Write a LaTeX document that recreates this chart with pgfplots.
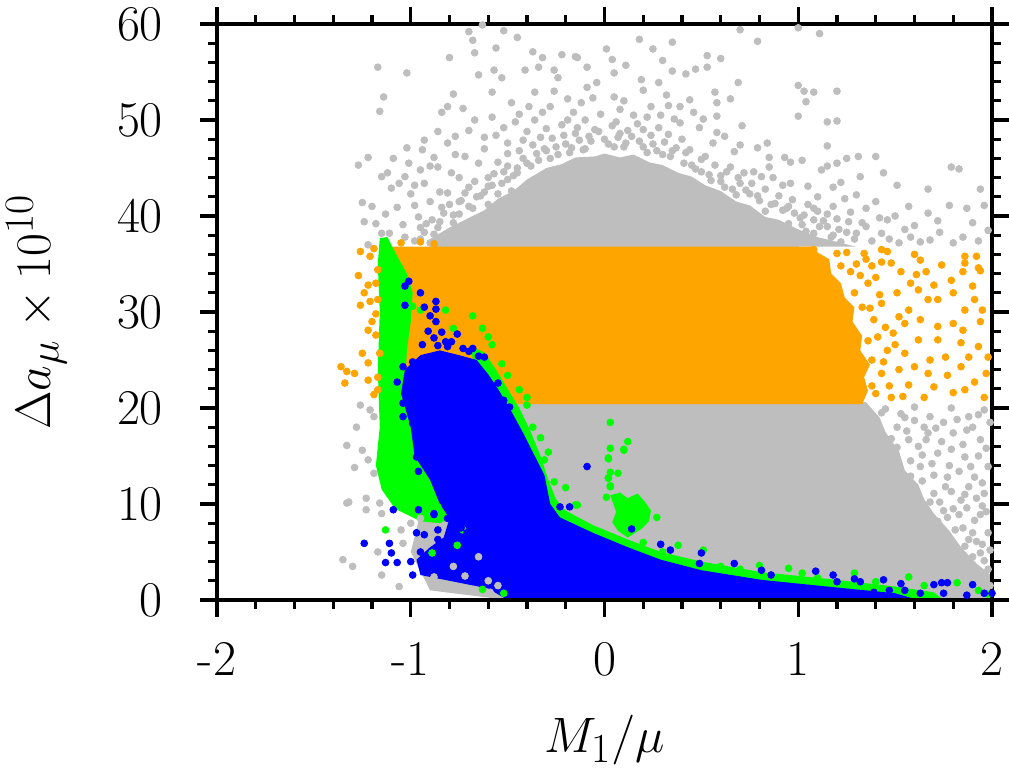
\documentclass[border=0pt]{standalone}
\usepackage{pgfplots}
\pgfplotsset{compat=1.18}
\definecolor{cgr}{RGB}{190,190,190}
\definecolor{cor}{RGB}{255,165,0}
\definecolor{cgn}{RGB}{0,255,0}
\definecolor{cbl}{RGB}{0,0,255}
\begin{document}
\begin{tikzpicture}
\useasboundingbox (-108.5pt,-84.5pt) rectangle (396pt,300pt);
\begin{axis}[
 at={(0,0)}, anchor=south west,
 scale only axis, width=387.5pt, height=288pt,
 xmin=-2, xmax=2, ymin=0, ymax=60,
 xtick={-2,-1,0,1,2}, xticklabels={-2,-1,0,1,2},
 ytick={0,10,20,30,40,50,60}, yticklabels={0,10,20,30,40,50,60},
 minor x tick num=4, minor y tick num=4,
 tick align=outside,
 major tick length=8.5pt, minor tick length=4.5pt,
 axis line style={line width=1.6pt},
 every tick/.style={line width=1.6pt, black},
 tick label style={font=\fontsize{25}{30}\selectfont},
 xticklabel style={yshift=-9pt},
 yticklabel style={xshift=-15pt},
 label style={font=\fontsize{27.5}{33}\selectfont},
 xlabel={$M_1/\mu$}, ylabel={$\Delta a_\mu \times 10^{10}$},
 xlabel style={at={(axis description cs:0.5,-0.2656)}, anchor=base},
 ylabel style={at={(axis description cs:-0.2142,0.5)}, anchor=base},
 axis on top,
 mark size=1.7pt,
]
% ---------------- grey: dense core ----------------
\addplot[draw=none, fill=cgr] coordinates {
(-0.9,36.8) (-0.9,37.6) (-0.8,38.8) (-0.7,39.8) (-0.62,40.6) (-0.55,41.8) (-0.47,42.6) (-0.4,43.8) (-0.3,45) (-0.22,45.4) (-0.15,46.1) (-0.05,46.2) (0,46.5) (0.08,46.1) (0.15,46.4) (0.23,45.6) (0.3,45.3) (0.38,44.5) (0.45,44.1) (0.52,43.2) (0.6,42.6) (0.68,41.5) (0.75,41.1) (0.83,39.9) (0.9,39.6) (1.0,38.6) (1.1,37.8) (1.2,37.3) (1.3,36.8) (1.0,36.8) (1.0,20.6) (1.35,20.6) (1.42,19) (1.45,17.5) (1.52,15.5) (1.55,13.5) (1.62,12) (1.65,10.5) (1.7,9) (1.78,7.2) (1.84,5.5) (1.92,3.8) (2.0,2.5) (2.0,0) (-0.5,0) (-0.9,1) (-1.0,5) (-0.95,9) (-0.9,20.5) (-0.9,36.8)};
% ---------------- grey: scattered points ----------------
\addplot[only marks, mark=*, cgr] coordinates {
(-0.63,59.9)(-0.70,59.2)(-0.52,59.3)(-0.45,58.6)(-0.68,58.3)(-0.56,57.5)(-0.67,57)(-0.80,56.5)(-1.17,55.5)(-1.02,54.9)
(-0.37,57.1)(-0.32,56.5)(-0.22,56.8)(-0.15,56.6)(-0.57,55.2)(-0.65,54.7)(-0.53,54.4)(-0.41,55.2)(-0.34,55.5)(-0.26,55.2)
(-0.04,53.9)(-0.24,54.4)(-1.14,52.4)(-1.16,50.9)(-0.78,52.7)(-0.58,52.9)(-0.36,52.9)(-0.26,53)(-0.81,51.4)(-0.73,51.2)
(-0.48,51.8)(-0.39,51.4)(-0.32,50.8)(-0.19,52.2)(-0.12,51.8)(-0.84,50.8)(-0.58,50.3)(-0.67,50)(-0.46,49.8)(-0.36,50)
(-0.19,50)(-0.10,50)(-0.86,48.8)(-0.70,48.9)(-0.56,48.4)(-0.42,47.9)(-0.33,48.2)(-0.13,47.9)(-0.93,47.9)(-1.02,47.1)
(-0.81,47.6)(-1.27,45.3)(-1.22,46.1)(-1.09,46)(-1.01,45.5)(-0.94,46.9)(-0.88,46.1)(-0.77,46.4)(-1.15,44.1)(-1.12,44.5)
(-1.03,44.1)(-0.95,44.8)(-0.86,45.1)(-0.79,44.5)(-1.25,41.4)(-1.20,41)(-1.07,40.9)(-1.10,42.9)(-0.93,43.4)(-1.24,39.4)
(-0.98,41.1)(-1.04,39.1)(-0.96,39.9)(-1.15,38.2)(-1.11,38.2)(-1.22,37)(-1.03,37.8)(-0.89,39.6)(-0.81,42.4)(-0.84,40.9)
(-0.65,45.5)(-0.6,44)(-0.5,46.5)(-0.45,45)(-0.2,47.5)(0.0,48)(0.1,47.2)(0.25,47.5)(0.35,46.8)(0.4,48)
(-0.05,49)(0.2,49)(0.15,50.5)(0.1,52)(-0.3,46.8)(-0.7,43)(-0.62,42.5)(-0.75,41.5)
(-0.98,37.4)(-0.93,38.3)(-0.9,37.2)(-0.86,38.8)(-0.8,38)(-0.78,39.3)(-0.75,40.2)(-0.72,38.6)
(-0.68,40.8)(-0.66,42)(-0.6,41.2)(-0.58,43.2)(-0.55,42.3)(-0.5,43.8)(-0.48,42.6)(-0.52,44.6)(-0.45,44.5)(-0.42,46)
(-0.38,45.2)(-0.35,46.5)(-0.28,46)(-0.25,47.2)(-0.18,46.6)(-0.1,47)(-0.08,48.3)(0.05,47.2)(0.08,48.6)(0.18,47.8)
(0.22,46.6)(0.3,46.4)(0.33,48.5)(0.42,46.6)(0.45,45.3)(0.5,44.6)(0.52,46.2)(0.55,43.7)(0.6,44.2)(0.62,43)
(0.68,42.2)(0.7,43.4)(0.75,42.3)(0.8,41.6)(0.83,40.5)(0.88,41.3)(0.92,40.6)(0.95,39.2)(0.98,40.3)(1.02,39.1)
(1.05,41.2)(1.1,40.5)(1.13,39.5)(1.2,39.7)(1.24,41.8)(1.35,40.8)(1.3,38.2)(1.18,38.0)(1.06,37.5)
(-0.3,49.1)(-0.22,49.5)(-0.15,48.6)(-0.02,50.6)(0.06,49.8)(0.12,48.9)(0.28,49.2)(0.36,50.1)(-0.4,48.8)(-0.5,47.6)
(-0.62,47)(-0.72,46.2)(-0.75,44)(-0.85,42.5)(-0.9,41.5)(-1.0,42.3)(-0.95,38.8)
(-0.95,37.6)(-0.92,39.2)(-0.88,38.1)(-0.85,39.4)(-0.83,40.3)(-0.8,41.2)(-0.78,40.1)(-0.74,41.6)(-0.72,42.4)(-0.7,41)
(-0.67,43.6)(-0.64,42.1)(-0.6,43.1)(-0.57,44.4)(-0.55,45.6)(-0.53,43.4)(-0.5,45.2)(-0.47,44.2)(-0.44,46.8)(-0.4,45.5)
(-0.37,47.4)(-0.34,45.8)(-0.31,47)(-0.27,48.1)(-0.24,46.4)(-0.21,48.4)(-0.17,47.1)(-0.14,49.2)(-0.11,46.9)(-0.07,47.8)
(-0.03,48.8)(0.02,47.5)(0.04,49.4)(0.07,48.2)(0.11,47.6)(0.14,48.3)(0.17,49.6)(0.2,47.2)(0.24,48.4)(0.27,46.8)
(0.31,47.7)(0.34,46.2)(0.37,47.1)(0.41,45.5)(0.44,46.9)(0.47,44.9)(0.5,45.9)(0.54,44.3)(0.57,45.3)(0.6,43.6)
(0.63,44.6)(0.66,42.8)(0.69,44)(0.73,42.7)(0.76,43.4)(0.79,42.1)(0.83,42.8)(0.86,41.2)(0.9,42.1)(0.94,40.8)
(0.97,41.7)(1.01,39.8)(1.04,38.4)(1.08,40.8)(1.11,38.9)(1.15,40.2)(1.17,37.8)(1.21,38.6)(1.26,39.4)(1.29,37.6)
(1.35,38.9)(1.42,39.8)(1.47,37.6)(1.55,38.6)(1.63,37.3)(1.73,38.3)(1.85,37.8)(1.93,37.4)
(-0.52,49.2)(-0.44,50.6)(-0.28,51.4)(-0.16,50.8)(-0.06,52.3)(0.08,51.1)(0.22,50.3)(0.32,52.6)(0.44,52.1)(-0.62,48.2)
(-0.77,48.3)(-0.9,45.2)(-0.98,43.2)(-1.06,43.4)(-1.13,40.2)(-1.18,39.2)
(0.70,59.4)(1.0,59.6)(1.11,59)(0.79,58.2)(0.18,58.4)(0.35,58.1)(0.01,57.4)(0.25,57.4)(-0.14,56.5)(0.04,56.3)
(0.53,56.7)(0.60,56.4)(0.30,56.2)(-0.09,55.5)(0.11,55.7)(0.35,55.1)(0.42,54.8)(0.47,55.3)(0.53,55.5)(0.05,54.9)
(0.19,54.2)(0.28,53.9)(0.69,53.9)(1.0,53.6)(1.03,53)(1.08,52.9)(1.20,53)(0.57,52.9)(-0.09,53.4)(0.05,52.4)
(0.20,53.1)(0.65,52.2)(0.58,51.8)(1.04,51.9)(0.33,51.5)(0.39,51.4)(0.24,51.4)(1.0,50.4)(0.46,50.8)(0.51,50.1)
(0.58,50.4)(0.29,50.5)(1.15,49.8)(1.20,49.9)(0.71,49.4)(0.39,49.7)(0.49,49.2)(0.58,48.7)(0.62,48.3)(0.84,47.6)
(0.70,47.4)(0.79,47.1)(1.15,47.3)(0.56,47.6)(0.67,46.7)(0.85,46.1)(0.93,46.1)(0.96,45.6)(1.02,45.8)(1.20,45.5)
(1.25,46)(1.31,46.2)(1.40,46.2)(1.15,45.2)(1.12,44.8)(1.44,44.5)(1.51,43.2)(1.67,42.8)(1.79,45.1)(1.83,44.9)
(1.94,42.8)(0.72,44.5)(0.77,44.6)(0.81,44.1)(0.87,44)(0.92,43.2)(0.96,43.4)(1.05,43.1)(1.18,43)(1.22,43.5)
(1.32,44.1)(0.65,45.1)(0.85,45.1)
(0.95,41)(1.03,40.1)(1.18,41)(1.27,40.4)(1.33,39.3)(1.43,38.2)(1.57,41)(1.67,40.3)(1.78,41.1)(1.87,40.8)
(1.96,41.1)(1.80,37.2)(1.68,37.5)(1.58,37.8)(1.98,38.5)(1.22,37.3)(1.08,38.2)(0.98,37.8)(1.46,39.6)(1.08,39.6)
(1.15,38.9)(1.1,42)(1.3,42.2)(1.4,41.5)(1.5,40)(1.6,39)(1.72,39.5)(1.9,39.3)(1.25,38.3)(1.38,37.4)(1.52,37.2)(1.12,37.2)
(1.43,19.5)(1.51,18)(1.60,20.1)(1.68,19.1)(1.79,20)(1.88,19.1)(1.96,19.8)(1.57,16.7)(1.67,17.4)(1.80,17.4)
(1.94,16.7)(1.72,15.3)(1.86,14.9)(1.63,13.9)(1.77,12.8)(1.91,12.8)(1.98,13.9)(1.70,11.1)(1.84,10.4)(1.96,11.1)
(1.77,8.6)(1.91,8.3)(1.67,9.1)(1.98,7)(1.88,6.3)(1.94,4.9)(1.51,15.9)
(1.55,19)(1.62,16)(1.75,18.5)(1.9,18)(1.85,16.2)(1.78,14)(1.93,15)(1.7,13)(1.88,11.8)(1.8,9.5)
(1.95,9.8)(1.73,10.2)(1.85,7.5)(1.95,5.8)(1.9,4.5)(1.98,3.2)(1.65,18)(1.58,14.5)
(1.45,19.9)(1.48,16.8)(1.53,19.4)(1.56,17.6)(1.6,18.7)(1.64,15.1)(1.66,16.7)(1.69,14.2)(1.71,17.9)(1.74,16.5)
(1.76,11.8)(1.79,15.7)(1.82,18.8)(1.83,13.4)(1.86,11)(1.87,17.7)(1.89,13.9)(1.92,10.6)(1.93,19.3)(1.95,12.2)
(1.97,15.8)(1.99,18.5)(1.58,12.9)(1.61,10.9)(1.64,12.4)(1.68,10.2)(1.72,8.2)(1.75,9.3)(1.79,11.3)(1.81,7.3)
(1.83,8.9)(1.86,5.6)(1.87,9.6)(1.9,7)(1.92,6.1)(1.94,8.9)(1.96,4.1)(1.99,5.2)(1.97,9.2)(1.89,3.4)
(1.95,2.8)(1.99,1.5)(1.55,11.2)(1.5,13.4)(1.47,14.8)(1.76,6.4)(1.81,4.6)(1.7,7.1)
(-1.26,20.3)(-1.28,18)(-1.33,16.1)(-1.25,15.6)(-1.29,13.8)(-1.22,14.6)(-1.19,13.2)(-1.32,10.2)(-1.23,10.6)(-1.16,10.1)
(-1.19,19.1)(-1.21,19.8)(-1.33,10.1)(-1.23,9.4)(-1.35,4.2)(-1.30,3.5)(-1.15,2.6)(-1.06,1.4)(-1.15,9)(-1.05,7.3)
(-1.04,5.9)(-1.17,5)(-1.0,8)(-0.88,2.4)(-0.81,1.2)(-0.69,1)(-0.59,0.8)
(-0.95,8.5)(-0.9,6)(-0.78,3.5)(-0.72,2.5)(-0.65,4.5)(-0.6,2)(-0.55,1.5)
};
% ---------------- orange ----------------
\addplot[draw=none, fill=cor] coordinates {
(-1.1,20.4) (1.0,20.4) (1.0,36.8) (-1.1,36.8) (-1.1,20.4)};
\addplot[draw=none, fill=cor] coordinates {
(0.99,20.4) (1.33,20.4) (1.36,21.8) (1.34,23.2) (1.37,24.5) (1.32,26) (1.33,27.5) (1.28,29) (1.29,30.5) (1.24,31.5) (1.22,33) (1.17,34) (1.16,35.5) (1.1,36.2) (1.07,36.8) (0.99,36.8)};
\addplot[only marks, mark=*, cor] coordinates {
(-1.26,36.3)(-1.21,35.8)(-1.27,33.8)(-1.22,32.8)(-1.24,32)(-1.21,31.1)(-1.26,30.7)(-1.17,31.3)(-1.20,29)(-1.22,28.1)
(-1.18,27.6)(-1.25,25.7)(-1.22,24.7)(-1.36,24.3)(-1.33,23.8)(-1.29,23.6)(-1.34,22.6)(-1.22,22.9)(-1.19,21.4)(-1.17,21.9)
(-1.17,23.2)(-1.16,25.7)(-1.17,34.4)(-1.19,36.6)(-1.18,33)(-1.18,29.8)(-1.05,37.2)(-0.95,37.3)(-0.88,37.1)
(1.08,36.5)(1.20,36.1)(1.34,36.1)(1.43,36.5)(1.46,36.3)(1.63,35.4)(1.86,35.8)(1.92,35.8)(1.93,34.6)(1.74,34.9)
(1.61,33.9)(1.53,34.2)(1.43,35.2)(1.48,35.1)(1.86,35.1)(1.85,34.2)(1.94,34.3)(1.79,33.3)(1.70,32.8)(1.90,32.7)
(1.80,32)(1.62,32.3)(1.51,32)(1.36,33)(1.29,32)(1.43,30.9)(1.67,31.3)(1.72,31.3)(1.86,30.2)(1.95,30.2)
(1.91,31.3)(1.57,30.2)(1.63,29.2)(1.72,28.5)(1.80,28.8)(1.85,28.1)(1.94,29)(1.93,26.4)(1.84,26.8)(1.72,27.1)
(1.62,27.1)(1.49,27.8)(1.55,25.7)(1.68,25)(1.76,25.3)(1.88,25.3)(1.98,25.3)(1.97,23.6)(1.84,24.3)(1.77,23.4)
(1.67,23.6)(1.60,24.3)(1.57,22.4)(1.70,22.2)(1.80,21.6)(1.86,21.9)(1.96,21.1)(1.91,22.7)(1.65,21.1)(1.48,21.1)
(1.43,23.6)(1.46,26)(1.39,29.2)(1.40,21.5)(1.38,25)(1.36,27)(1.33,30.5)(1.27,34.2)(1.38,34.8)(1.52,29.5)
(1.35,35.5)(1.4,33.6)(1.32,33.8)(1.42,31.8)(1.37,30.4)(1.45,28.4)(1.41,27.4)(1.5,26.6)(1.44,24.8)(1.52,24)
(1.47,22.3)(1.38,22.3)(1.54,21.2)(1.55,28.8)(1.58,33)(1.66,34.2)(1.6,36)(1.25,36.2)(1.3,35)(1.22,34.8)
};
% ---------------- green ----------------
\addplot[draw=none, fill=cgn] coordinates {
(-1.16,37.7)(-1.12,37.8)(-1.08,36.2)(-1.02,34)(-0.99,32)(-1.0,29)(-1.02,26)(-1.03,22)(-0.99,18)(-0.95,15)
(-0.85,13.3)(-0.76,11.5)(-0.75,9)(-0.85,8)(-0.95,8.2)(-1.08,9.5)(-1.15,11.5)(-1.18,14)(-1.16,18)(-1.17,24)(-1.16,30)(-1.17,35)(-1.16,37.7)};
\addplot[draw=none, fill=cgn] coordinates {
(-0.7,26.5)(-0.62,25.8)(-0.56,24)(-0.5,22)(-0.44,20)(-0.38,17.5)(-0.33,15)(-0.29,12.5)(-0.25,10.5)(-0.2,9.3)
(-0.06,7.8)(0.12,6.3)(0.29,5)(0.5,4)(0.81,2.9)(1.15,2.2)(1.5,1.4)(1.7,0.8)(1.75,0)(0,0)(-0.6,20)(-0.7,26.5)};
\addplot[draw=none, fill=cgn] coordinates {
(0.03,10.9)(0.08,11.2)(0.12,10.6)(0.17,11.1)(0.21,10.2)(0.24,9.3)(0.23,8.2)(0.19,7.4)(0.12,6.5)(0.07,7.2)(0.04,8.1)(0.06,9.2)(0.03,10.9)};
\addplot[only marks, mark=*, cgn] coordinates {
(-0.68,29.6)(-0.63,28.3)(-0.60,27.4)(-0.58,26.6)(-0.53,24.6)(-0.57,23.6)(-0.50,23.4)(-0.44,21.9)(-0.40,21.1)(-0.40,20.3)
(-0.37,18)(-0.33,16.9)(-0.29,15.4)(-0.31,14.6)(-0.26,12.3)(-0.20,11.7)(-0.14,9.9)(0.03,18.5)(0.12,16.5)(0.10,15.6)
(0.02,14.8)(0.02,12.7)(0.03,11.8)(0.01,10.7)(0.08,10.6)(-0.82,30.2)(-0.78,28.3)(-0.95,30.2)(-0.99,30.6)
(0.03,15.8)(0.10,15.7)(0.02,14.7)(0.03,13.3)(0.07,13.2)(0.02,12.7)(0.03,11.9)(-0.15,9.9)
(0.27,8.6)(0.20,6)(0.38,5.7)(0.30,5)(0.51,5.2)(0.80,3.6)(0.95,3.3)(1.02,2.8)(1.29,2.8)(1.57,2.4)(1.82,1.8)(1.93,1.0)
(-1.13,7.3)(-1.02,9.4)(-0.86,9.7)(-0.88,8.5)(-0.73,7.3)(-0.76,5.7)(-0.89,4.9)(-0.63,1.1)(-0.52,0.7)
(0.6,3.5)(0.7,3.2)(1.1,2.3)(1.4,1.9)(1.65,1.5)(1.98,0.6)
};
% ---------------- blue ----------------
\addplot[draw=none, fill=cbl] coordinates {
(-1.03,24)(-0.95,25.5)(-0.85,26)(-0.75,25.5)(-0.66,25)(-0.6,23.5)(-0.55,22)(-0.49,20)(-0.42,17.4)(-0.36,15)
(-0.31,13)(-0.28,10)(-0.23,8.6)(-0.06,7)(0.12,5.5)(0.29,4.2)(0.5,3.1)(0.81,2.1)(1.15,1.4)(1.5,0.7)
(1.62,0)(-0.5,0)(-0.6,1.2)(-0.8,2)(-0.95,2.6)(-0.97,4.2)(-0.9,5.5)(-0.83,6.5)(-0.8,8.5)(-0.85,10)(-0.9,12.5)
(-0.98,15)(-1.0,18)(-1.05,21.5)(-1.03,24)};
\addplot[only marks, mark=*, cbl] coordinates {
(-1.01,33.2)(-1.03,32.7)(-0.95,32)(-0.87,31.1)(-1.03,30.7)(-0.93,30.5)(-0.87,30.3)(-0.90,29.6)(-0.87,29)(-0.91,28)
(-0.84,27.9)(-0.76,27.7)(-0.88,27.3)(-0.82,26.9)(-0.79,26.9)(-0.86,26.5)(-0.94,26.6)(-0.81,26.4)(-0.73,26.2)(-0.68,26.2)
(-0.70,25.9)(-0.65,25.4)(-0.62,25.3)(-0.63,23.4)(-0.55,22.6)(-0.52,20.8)(-0.49,20.1)(-0.99,24.8)(-1.04,24.3)(-1.07,22.7)
(-1.04,20.5)(-1.04,19.1)(-0.99,18.4)(-0.96,17.4)(-0.97,14.9)(-0.96,13.4)(-0.93,14.9)(-0.84,12.3)(-0.80,11.8)(-1.09,9.4)
(-0.96,9.4)(-0.88,9)(-0.09,13.9)(-0.23,9.7)(-0.18,9.7)
(-0.88,8.9)(-0.81,8.5)(-0.97,7)(-0.93,6.8)(-0.86,7.3)(-0.86,6.3)(-0.81,6)(-1.24,5.9)(-1.11,5.9)
(-1.10,4.9)(-1.13,3.9)(-1.07,3.9)(-1.0,4)(-0.99,2.6)(-0.74,7.5)(-0.71,7)(-0.65,5.9)(-0.95,5)
(0.67,3.8)(0.81,3.1)(0.86,2.6)(1.09,3)(1.18,2.6)(1.20,1.9)(1.29,2.2)(1.32,1.9)(1.44,2.1)(1.53,1.7)
(1.70,1.6)(1.74,1.8)(1.77,1.8)(1.90,1.6)(1.96,0.7)(1.55,1.0)(1.63,0.7)(1.75,0.7)(1.87,0.5)(2.0,0.7)
(1.39,0.8)(1.47,1.0)(0.50,4.9)(0.34,5.2)(0.29,5.8)(0.49,3.8)(0.14,7.4)
};
\end{axis}
\end{tikzpicture}
\end{document}
